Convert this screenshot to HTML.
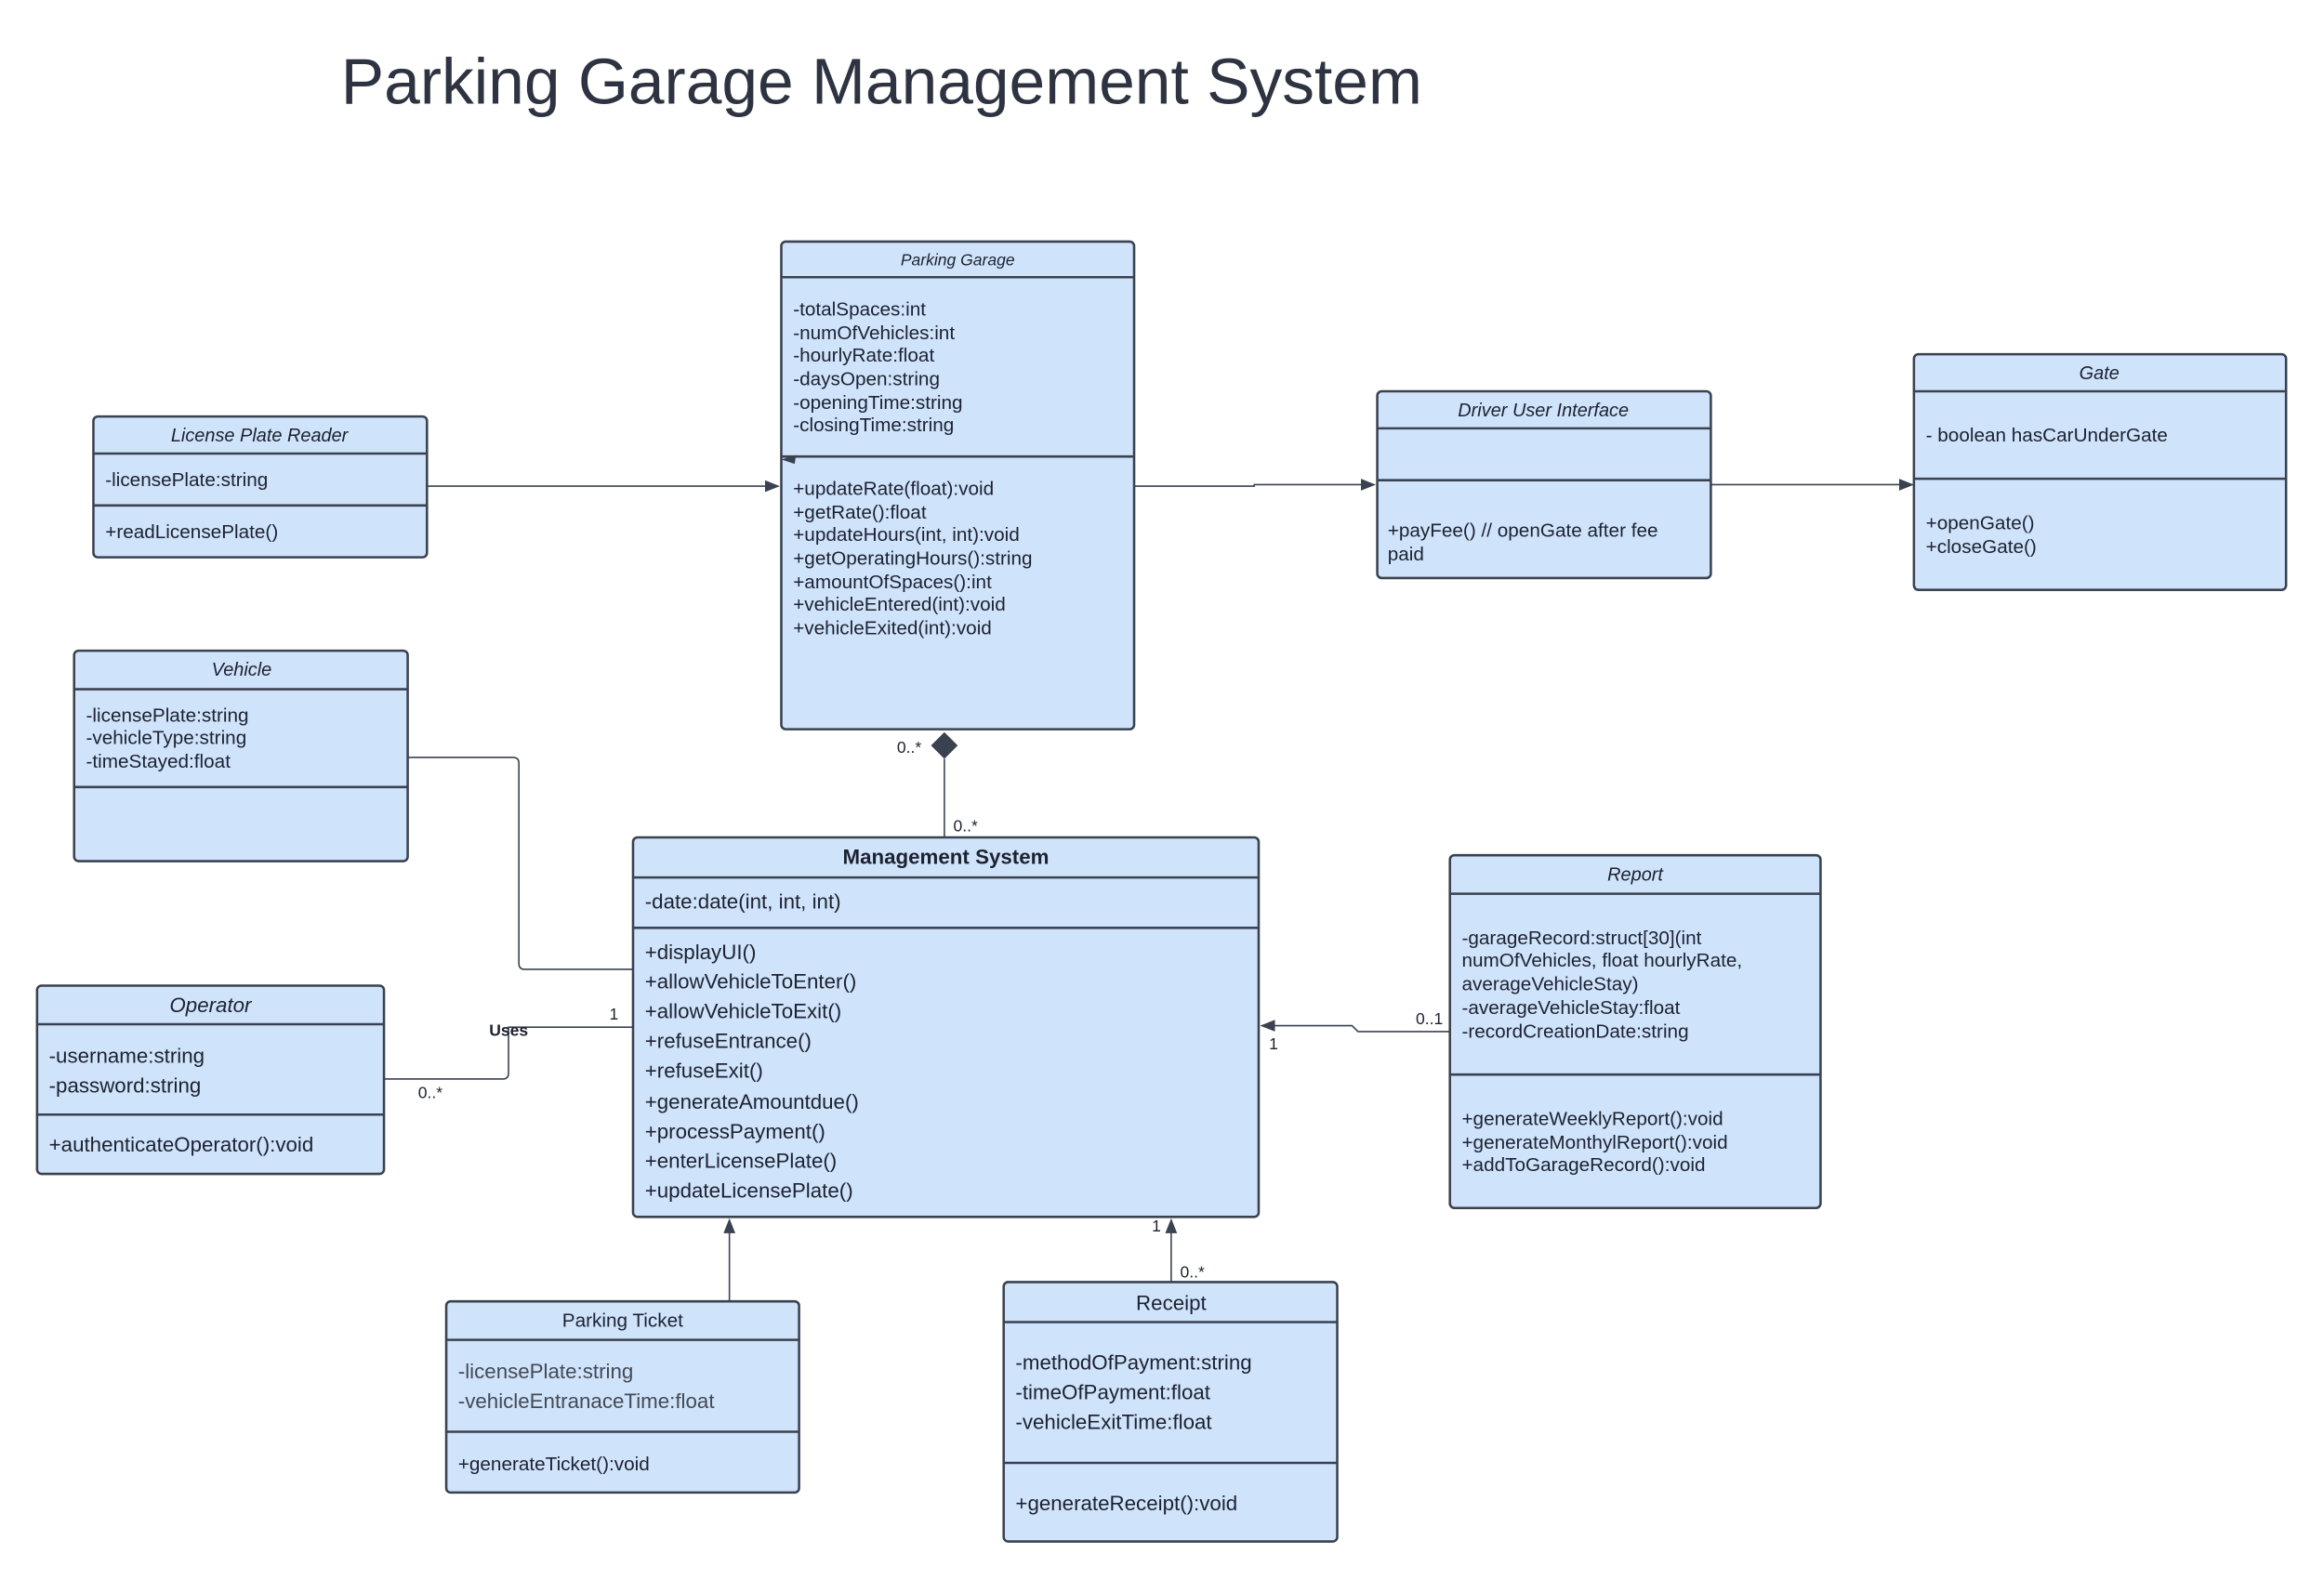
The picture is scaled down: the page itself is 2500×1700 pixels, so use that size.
<!DOCTYPE html>
<html><head><meta charset="utf-8"><style>
html,body{margin:0;padding:0;background:#fff;}
svg{display:block;}
text{font-family:"Liberation Sans",sans-serif;fill:#1d2230;}
.t{font-size:13px;}
.m{font-size:14px;}
.h{font-size:12.5px;font-style:italic;}
.lbl{font-size:11px;}
</style></head><body>
<svg width="2500" height="1700" viewBox="0 0 1567.6 1066" preserveAspectRatio="none" xmlns="http://www.w3.org/2000/svg">
<defs>
<marker id="ar" markerWidth="10" markerHeight="8" refX="9" refY="4" orient="auto" markerUnits="userSpaceOnUse"><path d="M0,0 L10,4 L0,8 z" fill="#3a4250"/></marker>
</defs>
<text x="230" y="70" style="font-size:43.6px;fill:#2d3340">Parking Garage Management System</text>

<g fill="#cfe3fb" stroke="#3a4250" stroke-width="1.6">
<rect x="527" y="163" width="238" height="329" rx="3"/>
<rect x="63" y="281" width="225" height="95" rx="3"/>
<rect x="929" y="264" width="225" height="126" rx="3"/>
<rect x="1291" y="239" width="251" height="159" rx="3"/>
<rect x="50" y="439" width="225" height="142" rx="3"/>
<rect x="427" y="565" width="422" height="256" rx="3"/>
<rect x="25" y="665" width="234" height="127" rx="3"/>
<rect x="978" y="577" width="250" height="238" rx="3"/>
<rect x="301" y="878" width="238" height="129" rx="3"/>
<rect x="677" y="865" width="225" height="175" rx="3"/>
</g>
<g stroke="#3a4250" stroke-width="1.6">
<line x1="527" y1="187" x2="765" y2="187"/><line x1="527" y1="308" x2="765" y2="308"/>
<line x1="63" y1="306" x2="288" y2="306"/><line x1="63" y1="341" x2="288" y2="341"/>
<line x1="929" y1="289" x2="1154" y2="289"/><line x1="929" y1="324" x2="1154" y2="324"/>
<line x1="1291" y1="264" x2="1542" y2="264"/><line x1="1291" y1="323" x2="1542" y2="323"/>
<line x1="50" y1="465" x2="275" y2="465"/><line x1="50" y1="531" x2="275" y2="531"/>
<line x1="427" y1="592" x2="849" y2="592"/><line x1="427" y1="626" x2="849" y2="626"/>
<line x1="25" y1="691" x2="259" y2="691"/><line x1="25" y1="752" x2="259" y2="752"/>
<line x1="978" y1="603" x2="1228" y2="603"/><line x1="978" y1="725" x2="1228" y2="725"/>
<line x1="301" y1="904" x2="539" y2="904"/><line x1="301" y1="966" x2="539" y2="966"/>
<line x1="677" y1="892" x2="902" y2="892"/><line x1="677" y1="987" x2="902" y2="987"/>
</g>

<g fill="none" stroke="#3a4250" stroke-width="1">
<line x1="288" y1="328" x2="525" y2="328" marker-end="url(#ar)"/>
<polyline points="765,328 846,328 846,327 927,327" marker-end="url(#ar)"/>
<line x1="1154" y1="327" x2="1290" y2="327" marker-end="url(#ar)"/>
<line x1="637" y1="512" x2="637" y2="565"/>
<path d="M275,511 H346 Q350,511 350,515 V650 Q350,654 354,654 H427"/>
<path d="M259,728 H339 Q343,728 343,724 V693 H427"/>
<polyline points="978,696 916,696 912,692 851,692" marker-end="url(#ar)"/>
<line x1="492" y1="878" x2="492" y2="823" marker-end="url(#ar)"/>
<line x1="790" y1="865" x2="790" y2="823" marker-end="url(#ar)"/>
</g>
<path d="M527,310 L537,307 L536,313 z" fill="#3a4250"/>
<path d="M637,494 L646,503 L637,512 L628,503 z" fill="#3a4250"/>

<g class="lbl">
<text x="605" y="508">0..*</text><text x="643" y="561">0..*</text>
<text x="330" y="699" style="font-weight:bold">Uses</text>
<text x="411" y="688">1</text><text x="282" y="741">0..*</text>
<text x="955" y="691">0..1</text><text x="856" y="708">1</text>
<text x="777" y="831">1</text><text x="796" y="862">0..*</text>
</g>

<text class="h" x="646" y="179" text-anchor="middle" style="font-size:11px">Parking Garage</text>
<g class="t">
<text x="535" y="213">-totalSpaces:int</text>
<text x="535" y="229">-numOfVehicles:int</text>
<text x="535" y="244">-hourlyRate:float</text>
<text x="535" y="260">-daysOpen:string</text>
<text x="535" y="276">-openingTime:string</text>
<text x="535" y="291">-closingTime:string</text>
<text x="535" y="334">+updateRate(float):void</text>
<text x="535" y="350">+getRate():float</text>
<text x="535" y="365">+updateHours(int, int):void</text>
<text x="535" y="381">+getOperatingHours():string</text>
<text x="535" y="397">+amountOfSpaces():int</text>
<text x="535" y="412">+vehicleEntered(int):void</text>
<text x="535" y="428">+vehicleExited(int):void</text>
</g>

<text class="h" x="175" y="298" text-anchor="middle">License Plate Reader</text>
<text class="t" x="71" y="328">-licensePlate:string</text>
<text class="t" x="71" y="363">+readLicensePlate()</text>

<text class="h" x="1041" y="281" text-anchor="middle">Driver User Interface</text>
<text class="t" x="936" y="362">+payFee() // openGate after fee</text>
<text class="t" x="936" y="378">paid</text>

<text class="h" x="1416" y="256" text-anchor="middle">Gate</text>
<text class="t" x="1299" y="298">- boolean hasCarUnderGate</text>
<text class="t" x="1299" y="357">+openGate()</text>
<text class="t" x="1299" y="373">+closeGate()</text>

<text class="h" x="163" y="456" text-anchor="middle">Vehicle</text>
<text class="t" x="58" y="487">-licensePlate:string</text>
<text class="t" x="58" y="502">-vehicleType:string</text>
<text class="t" x="58" y="518">-timeStayed:float</text>

<text x="638" y="583" text-anchor="middle" style="font-size:14px;font-weight:bold">Management System</text>
<g class="m">
<text x="435" y="613">-date:date(int, int, int)</text>
<text x="435" y="647">+displayUI()</text>
<text x="435" y="667">+allowVehicleToEnter()</text>
<text x="435" y="687">+allowVehicleToExit()</text>
<text x="435" y="707">+refuseEntrance()</text>
<text x="435" y="727">+refuseExit()</text>
<text x="435" y="748">+generateAmountdue()</text>
<text x="435" y="768">+processPayment()</text>
<text x="435" y="788">+enterLicensePlate()</text>
<text x="435" y="808">+updateLicensePlate()</text>
</g>

<text x="142" y="683" text-anchor="middle" style="font-size:14px;font-style:italic">Operator</text>
<text class="m" x="33" y="717">-username:string</text>
<text class="m" x="33" y="737">-password:string</text>
<text class="m" x="33" y="777">+authenticateOperator():void</text>

<text class="h" x="1103" y="594" text-anchor="middle">Report</text>
<g class="t">
<text x="986" y="637">-garageRecord:struct[30](int</text>
<text x="986" y="652">numOfVehicles, float hourlyRate,</text>
<text x="986" y="668">averageVehicleStay)</text>
<text x="986" y="684">-averageVehicleStay:float</text>
<text x="986" y="700">-recordCreationDate:string</text>
<text x="986" y="759">+generateWeeklyReport():void</text>
<text x="986" y="775">+generateMonthylReport():void</text>
<text x="986" y="790">+addToGarageRecord():void</text>
</g>

<text x="420" y="895" text-anchor="middle" style="font-size:13px">Parking Ticket</text>
<text class="m" x="309" y="930" style="fill:#444a55">-licensePlate:string</text>
<text class="m" x="309" y="950" style="fill:#444a55">-vehicleEntranaceTime:float</text>
<text class="t" x="309" y="992">+generateTicket():void</text>

<text x="790" y="884" text-anchor="middle" style="font-size:14px">Receipt</text>
<text class="m" x="685" y="924">-methodOfPayment:string</text>
<text class="m" x="685" y="944">-timeOfPayment:float</text>
<text class="m" x="685" y="964">-vehicleExitTime:float</text>
<text class="m" x="685" y="1019">+generateReceipt():void</text>
</svg>
</body></html>
